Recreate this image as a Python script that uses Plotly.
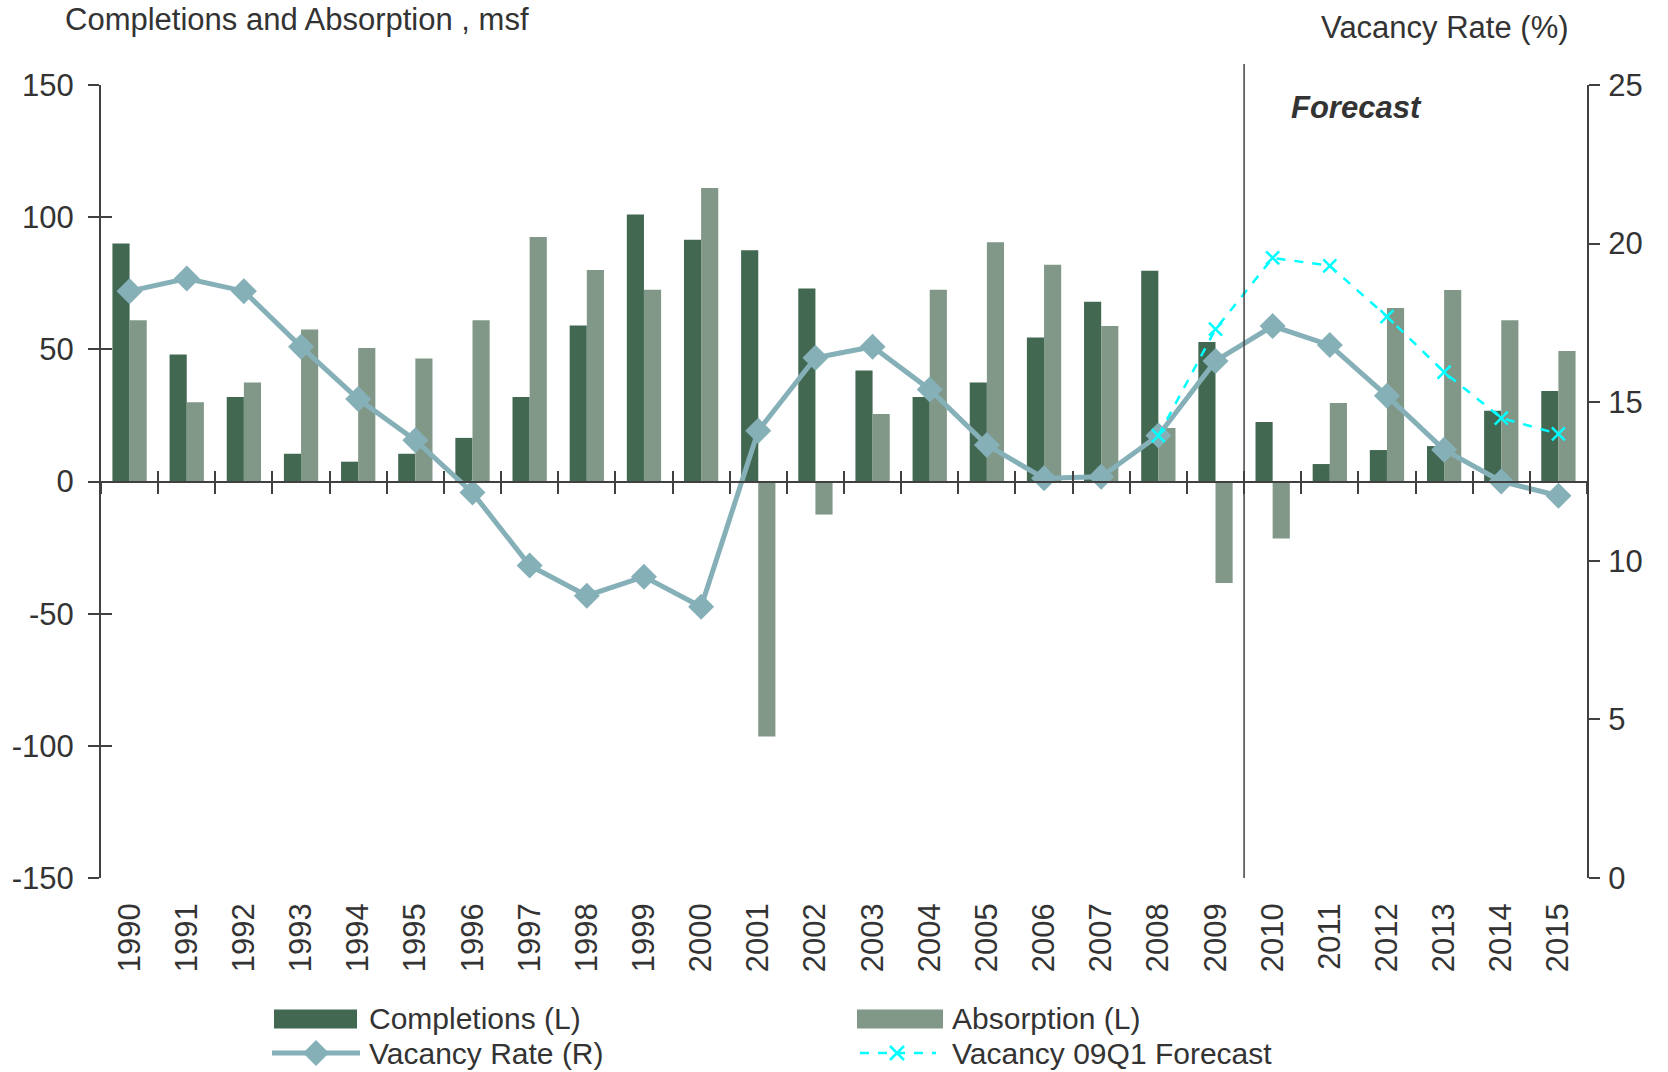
import plotly.graph_objects as go

years = list(range(1990, 2016))
year_labels = [str(y) for y in years]
completions = [90, 48, 32, 10.5, 7.5, 10.5, 16.5, 32, 59, 101, 91.5, 87.5, 73, 42, 32,
               37.5, 54.5, 68, 79.7, 52.8, 22.5, 6.6, 11.9, 13.4, 26.8, 34.2]
absorption = [61, 30, 37.5, 57.5, 50.5, 46.5, 61, 92.5, 80, 72.5, 111, -96.5, -12.5, 25.5,
              72.5, 90.5, 82, 58.8, 20.2, -38.4, -21.6, 29.7, 65.6, 72.4, 61, 49.4]
vacancy = [18.5, 18.9, 18.5, 16.75, 15.1, 13.8, 12.15, 9.85, 8.9, 9.5, 8.55, 14.1, 16.4,
           16.75, 15.4, 13.65, 12.6, 12.65, 13.95, 16.3, 17.4, 16.8, 15.2, 13.5, 12.5, 12.05]
forecast = [None] * 18 + [13.95, 17.3, 19.55, 19.3, 17.7, 15.95, 14.5, 14.0]
left_ticks = [-150, -100, -50, 0, 50, 100, 150]
left_labels = ["-150", "-100", "-50", "0", "50", "100", "150"]
right_ticks = [0, 5, 10, 15, 20, 25]

C_DARK = "#426852"
C_LIGHT = "#819788"
C_VAC = "#86B0B8"
C_FC = "#00FFFF"
C_TXT = "#333333"
C_AX = "#404040"
FONT = "Liberation Sans, Arial, sans-serif"
FS = 31

W, H = 1668, 1072
PLOT_L, PLOT_R, PLOT_T, PLOT_B = 101, 1587, 85, 878   # page pixel positions
ML, MT = PLOT_L, PLOT_T
MR = W - PLOT_R
MB = H - PLOT_B
PW, PH = PLOT_R - PLOT_L, PLOT_B - PLOT_T


def px(x):
    return (x - PLOT_L) / PW


def py(y):
    return (PLOT_B - y) / PH


fig = go.Figure()
fig.add_trace(go.Bar(x=years, y=completions, name="Completions (L)", marker_color=C_DARK,
                     marker_line_width=0, showlegend=False))
fig.add_trace(go.Bar(x=years, y=absorption, name="Absorption (L)", marker_color=C_LIGHT,
                     marker_line_width=0, showlegend=False))
fig.add_trace(go.Scatter(x=years, y=vacancy, name="Vacancy Rate (R)", yaxis="y2",
                         mode="lines+markers", line=dict(color=C_VAC, width=5),
                         marker=dict(symbol="diamond", size=20, color=C_VAC),
                         showlegend=False))
fig.add_trace(go.Scatter(x=years, y=forecast, name="Vacancy 09Q1 Forecast", yaxis="y2",
                         mode="lines+markers", line=dict(color=C_FC, width=2.5, dash="dash"),
                         marker=dict(symbol="x-thin", size=13, line=dict(color=C_FC, width=2.5)),
                         connectgaps=False, showlegend=False))

boundaries = [y - 0.5 for y in years] + [years[-1] + 0.5]
xr = [years[0] - 0.5, years[-1] + 0.5]
axfont = dict(family=FONT, size=FS, color=C_TXT)

fig.update_layout(
    width=W, height=H,
    margin=dict(l=ML, r=MR, t=MT, b=MB, autoexpand=False),
    paper_bgcolor="white", plot_bgcolor="white",
    barmode="group", bargap=0.4, bargroupgap=0,
    font=dict(family=FONT, size=FS, color=C_TXT),
    xaxis=dict(range=xr, tickmode="array", tickvals=years, ticktext=year_labels,
               tickangle=-90, showline=False, ticks="", showgrid=False, zeroline=False,
               tickfont=axfont, ticklabelstandoff=18, automargin=False),
    xaxis2=dict(overlaying="x", matches="x", anchor="free", position=0.5, range=xr,
                showline=True, linecolor=C_AX, linewidth=2, ticks="outside", ticklen=11,
                tickwidth=2, tickcolor=C_AX, tickmode="array", tickvals=boundaries,
                showticklabels=False, showgrid=False, zeroline=False, automargin=False),
    xaxis3=dict(overlaying="x", matches="x", anchor="free", position=0.5, range=xr,
                showline=False, ticks="inside", ticklen=11, tickwidth=2, tickcolor=C_AX,
                tickmode="array", tickvals=boundaries, showticklabels=False,
                showgrid=False, zeroline=False, automargin=False),
    yaxis=dict(range=[-150, 150], tickmode="array", tickvals=left_ticks,
               ticktext=left_labels, showline=True,
               linecolor=C_AX, linewidth=2, ticks="outside", ticklen=11, tickwidth=2,
               tickcolor=C_AX, showgrid=False, zeroline=False, tickfont=axfont,
               ticklabelstandoff=8, automargin=False),
    yaxis3=dict(overlaying="y", matches="y", range=[-150, 150], side="left", anchor="x",
                tickmode="array", tickvals=left_ticks, ticks="inside", ticklen=11,
                tickwidth=2, tickcolor=C_AX, showticklabels=False, showgrid=False,
                zeroline=False, showline=False, automargin=False),
    yaxis2=dict(overlaying="y", side="right", anchor="x", range=[0, 25], tickmode="array",
                tickvals=right_ticks, showline=True, linecolor=C_AX, linewidth=2,
                ticks="outside", ticklen=11, tickwidth=2, tickcolor=C_AX, showgrid=False,
                zeroline=False, tickfont=axfont, ticklabelstandoff=2, automargin=False),
)

# dummy traces so the overlay axes are rendered
fig.add_trace(go.Scatter(x=[None], y=[None], xaxis="x2", yaxis="y", showlegend=False,
                         hoverinfo="skip"))
fig.add_trace(go.Scatter(x=[None], y=[None], xaxis="x3", yaxis="y3", showlegend=False,
                         hoverinfo="skip"))

shapes = []
# forecast divider line
shapes.append(dict(type="line", xref="x", yref="paper", x0=2009.5, x1=2009.5,
                   y0=0, y1=py(64), line=dict(color=C_AX, width=1.5)))

annotations = [
    dict(text="Completions and Absorption , msf", xref="paper", yref="paper",
         x=px(64), y=py(20), xanchor="left", yanchor="middle", showarrow=False,
         borderpad=0, font=dict(family=FONT, size=FS, color=C_TXT)),
    dict(text="Vacancy Rate (%)", xref="paper", yref="paper",
         x=px(1570), y=py(28), xanchor="right", yanchor="middle", showarrow=False,
         borderpad=0, font=dict(family=FONT, size=FS, color=C_TXT)),
    dict(text="<b><i>Forecast</i></b>", xref="paper", yref="paper",
         x=px(1356), y=py(107), xanchor="center", yanchor="middle", showarrow=False,
         font=dict(family=FONT, size=31, color=C_TXT)),
]

# custom legend
r1, r2 = 1019, 1053
shapes.append(dict(type="rect", xref="paper", yref="paper", x0=px(274), x1=px(357),
                   y0=py(r1 - 9.5), y1=py(r1 + 9.5), fillcolor=C_DARK, line_width=0))
shapes.append(dict(type="rect", xref="paper", yref="paper", x0=px(857), x1=px(943),
                   y0=py(r1 - 9.5), y1=py(r1 + 9.5), fillcolor=C_LIGHT, line_width=0))
shapes.append(dict(type="line", xref="paper", yref="paper", x0=px(272), x1=px(360),
                   y0=py(r2), y1=py(r2), line=dict(color=C_VAC, width=5)))
cx, d = 316, 13
shapes.append(dict(type="path", xref="paper", yref="paper",
                   path=f"M {px(cx - d)} {py(r2)} L {px(cx)} {py(r2 - d)} L {px(cx + d)} {py(r2)} "
                        f"L {px(cx)} {py(r2 + d)} Z",
                   fillcolor=C_VAC, line_width=0))
shapes.append(dict(type="line", xref="paper", yref="paper", x0=px(860), x1=px(936),
                   y0=py(r2), y1=py(r2), line=dict(color=C_FC, width=2.5, dash="dash")))
xx, e = 897, 7
shapes.append(dict(type="path", xref="paper", yref="paper",
                   path=f"M {px(xx - e)} {py(r2 - e)} L {px(xx + e)} {py(r2 + e)} "
                        f"M {px(xx - e)} {py(r2 + e)} L {px(xx + e)} {py(r2 - e)}",
                   line=dict(color=C_FC, width=2.5)))

for txt, x, y in [("Completions (L)", 367, r1), ("Absorption (L)", 950, r1),
                  ("Vacancy Rate (R)", 367, r2), ("Vacancy 09Q1 Forecast", 950, r2)]:
    annotations.append(dict(text=txt, xref="paper", yref="paper", x=px(x), y=py(y),
                            xanchor="left", yanchor="middle", showarrow=False,
                            font=dict(family=FONT, size=FS - 1, color=C_TXT)))

fig.update_layout(shapes=shapes, annotations=annotations)
fig.write_html("out.html",
               config={"displayModeBar": False},
               post_script="document.body.style.margin='0px';"
                           "document.body.style.overflow='hidden';")
